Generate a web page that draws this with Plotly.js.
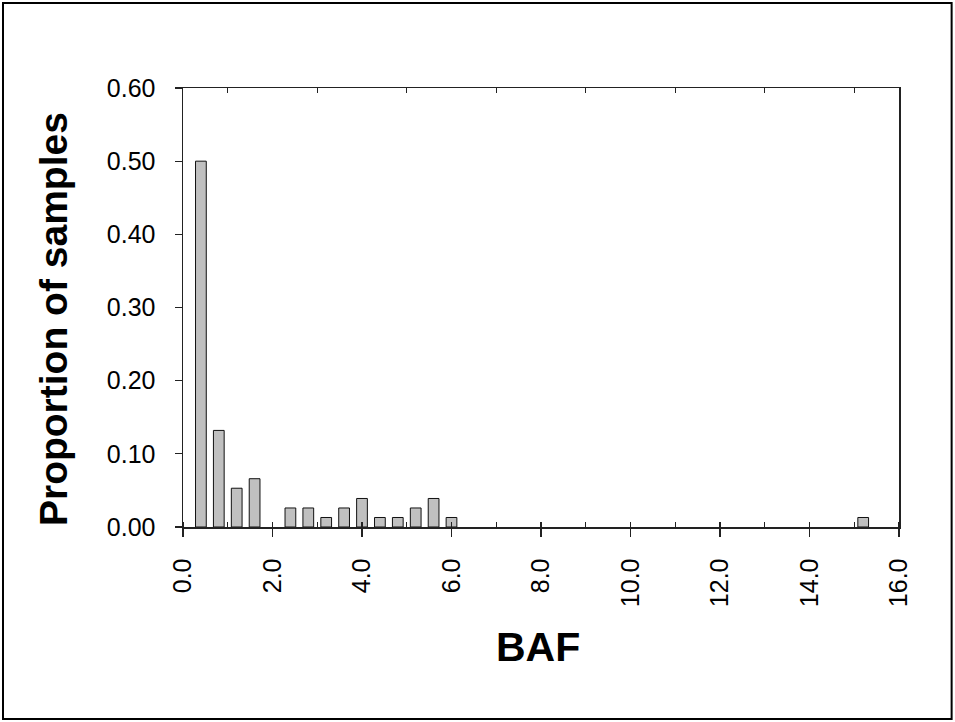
<!DOCTYPE html>
<html>
<head>
<meta charset="utf-8">
<script src="https://cdn.plot.ly/plotly-3.0.1.min.js"></script>
<style>html,body{margin:0;padding:0;background:#fff;}#chart{width:955px;height:722px;}</style>
</head>
<body>
<div id="chart"></div>
<script>
// BAF bin centres (the 2.0 bin is empty)
var bafBins = [0.4, 0.8, 1.2, 1.6, 2.4, 2.8, 3.2, 3.6, 4.0, 4.4, 4.8, 5.2, 5.6, 6.0, 15.2];
// Proportion of samples in each bin
var proportions = [0.500, 0.132, 0.053, 0.066, 0.026, 0.026, 0.013, 0.026, 0.039, 0.013, 0.013, 0.026, 0.039, 0.013, 0.013];
var xTickVals = [0, 2, 4, 6, 8, 10, 12, 14, 16];
var xTickText = ["0.0", "2.0", "4.0", "6.0", "8.0", "10.0", "12.0", "14.0", "16.0"];
var yTickVals = [0, 0.1, 0.2, 0.3, 0.4, 0.5, 0.6];
var yTickText = ["0.00", "0.10", "0.20", "0.30", "0.40", "0.50", "0.60"];
var topTickVals = [1, 3, 5, 7, 9, 11, 13, 15];

var FONT = "Arial, 'Liberation Sans', Helvetica, sans-serif";
var AX = "#222";

var traces = [
  {
    type: "bar",
    x: bafBins,
    y: proportions,
    width: 0.24,
    marker: {color: "#c0c0c0", line: {color: "#111", width: 1}},
    hoverinfo: "x+y",
    showlegend: false
  },
  {
    type: "scatter",
    x: [0],
    y: [0],
    xaxis: "x2",
    yaxis: "y",
    mode: "markers",
    marker: {opacity: 0},
    hoverinfo: "skip",
    showlegend: false
  }
];

var layout = {
  width: 955,
  height: 722,
  margin: {l: 183, r: 56, t: 88, b: 195},
  paper_bgcolor: "#fff",
  plot_bgcolor: "#fff",
  font: {family: FONT, color: "#000"},
  showlegend: false,
  bargap: 0,
  xaxis: {
    range: [0, 16],
    tickvals: xTickVals,
    ticktext: xTickText,
    tickangle: -90,
    ticks: "outside",
    ticklen: 8,
    tickwidth: 1.3,
    tickcolor: AX,
    ticklabelstandoff: 12,
    minor: {dtick: 1, tick0: 0, ticks: "inside", ticklen: 5, tickwidth: 1.3, tickcolor: AX, showgrid: false},
    showline: true,
    linecolor: AX,
    linewidth: 1.5,
    mirror: true,
    showgrid: false,
    zeroline: false,
    tickfont: {size: 25, family: FONT, color: "#000"},
    fixedrange: true
  },
  xaxis2: {
    overlaying: "x",
    side: "top",
    range: [0, 16],
    tickvals: topTickVals,
    ticks: "inside",
    ticklen: 5,
    tickwidth: 1.3,
    tickcolor: AX,
    showticklabels: false,
    showline: false,
    showgrid: false,
    zeroline: false,
    fixedrange: true
  },
  yaxis: {
    range: [0, 0.6],
    tickvals: yTickVals,
    ticktext: yTickText,
    ticks: "outside",
    ticklen: 7,
    tickwidth: 1.3,
    tickcolor: AX,
    ticklabelstandoff: 14,
    showline: true,
    linecolor: AX,
    linewidth: 1.5,
    mirror: true,
    showgrid: false,
    zeroline: false,
    tickfont: {size: 25, family: FONT, color: "#000"},
    fixedrange: true
  },
  annotations: [
    {
      text: "<b>Proportion of samples</b>",
      xref: "paper", yref: "paper",
      x: -0.18, y: 0.474,
      xanchor: "center", yanchor: "middle",
      textangle: -90,
      showarrow: false,
      font: {size: 39, family: FONT, color: "#000"}
    },
    {
      text: "<b>BAF</b>",
      xref: "paper", yref: "paper",
      x: 0.4958, y: -0.2733,
      xanchor: "center", yanchor: "middle",
      showarrow: false,
      font: {size: 41, family: FONT, color: "#000"}
    }
  ],
  shapes: [
    {
      type: "rect",
      xref: "paper", yref: "paper",
      x0: -0.2514, x1: 1.0735, y0: -0.4374, y1: 1.1936,
      line: {color: "#000", width: 2},
      fillcolor: "rgba(0,0,0,0)",
      layer: "below"
    }
  ]
};

Plotly.newPlot("chart", traces, layout, {displayModeBar: false, staticPlot: true});
</script>
</body>
</html>
